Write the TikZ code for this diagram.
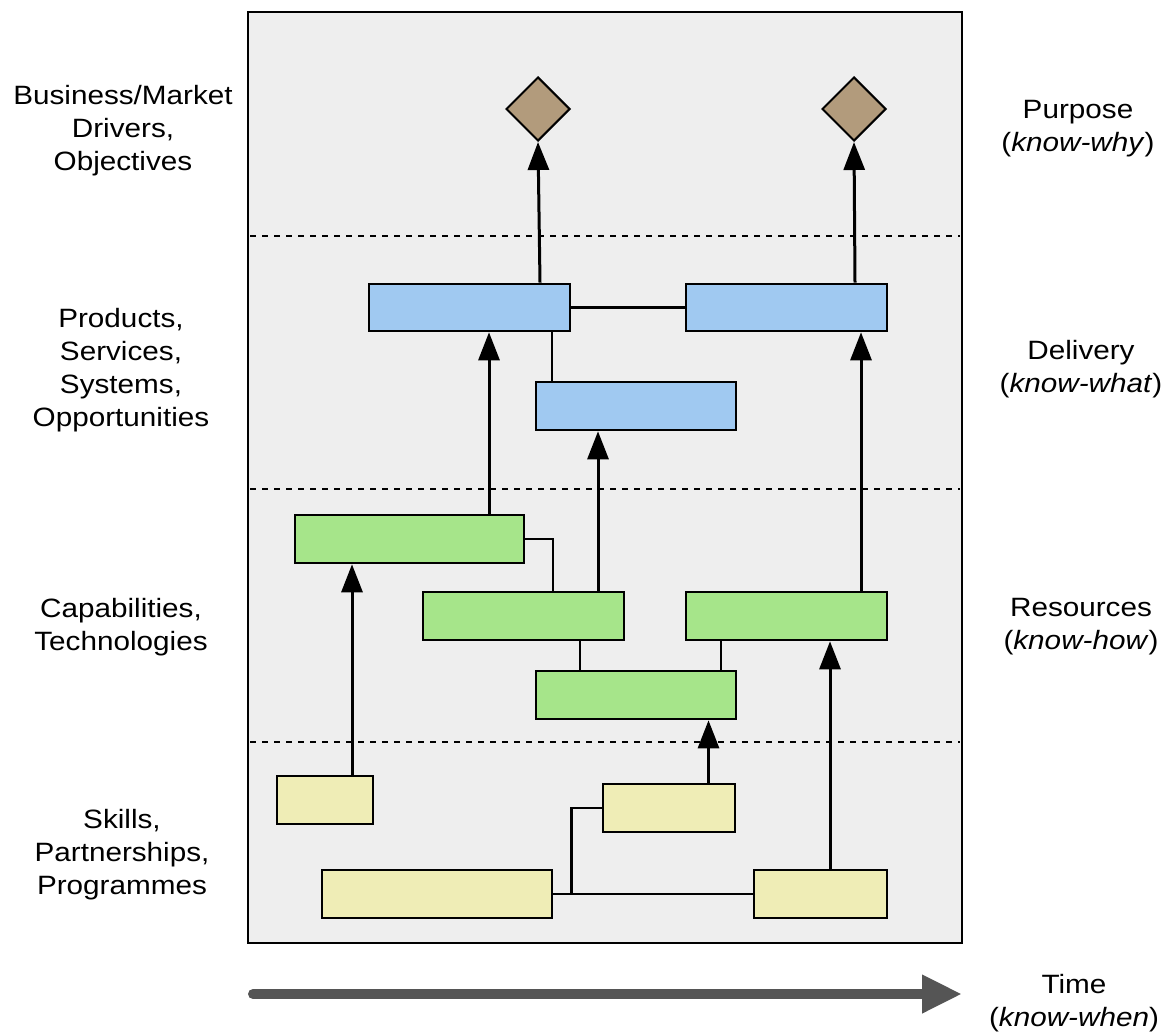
\documentclass[tikz,border=0pt]{standalone}
\usepackage{fontspec}
\setmainfont{Liberation Sans}[FakeStretch=1.12]
\usetikzlibrary{shapes.geometric,arrows.meta}
\definecolor{bgc}{HTML}{EEEEEE}
\definecolor{bluec}{HTML}{A0C9F1}
\definecolor{greenc}{HTML}{A6E58A}
\definecolor{yellowc}{HTML}{EFEDB6}
\definecolor{diamc}{HTML}{B29B7C}
\definecolor{timec}{HTML}{555555}
\tikzset{
  box/.style={draw=black, line width=2.6pt, rectangle, inner sep=0pt},
  bluebox/.style={box, fill=bluec, minimum width=201pt, minimum height=47pt},
  greenbox/.style={box, fill=greenc, minimum height=48pt},
  yellowbox/.style={box, fill=yellowc, minimum height=48pt},
  goal/.style={draw=black, line width=2pt, diamond, aspect=1, fill=diamc, inner sep=0pt, minimum width=64pt, minimum height=64pt},
  link/.style={draw=black, line width=2.6pt},
  arr/.style={draw=black, line width=3pt, -{Triangle[length=28pt,width=21pt]}},
  sep/.style={draw=black, line width=2.6pt, dash pattern=on 6pt off 6pt},
  lab/.style={align=center, font=\fontsize{26.5}{33}\selectfont, inner sep=0pt},
  timearrow/.style={draw=timec, line width=10pt, line cap=round, -{Triangle[length=40pt,width=36pt]}}
}
\begin{document}
\begin{tikzpicture}[x=1pt,y=-1pt]
\useasboundingbox (0,0) rectangle (1175,1034);
% frame
\draw[fill=bgc, line width=2.6pt] (248,12) rectangle (962,943);
\draw[sep] (250,236) -- (960,236);
\draw[sep] (250,489) -- (960,489);
\draw[sep] (250,742) -- (960,742);

% diamonds
\node[goal] (D1) at (538,109) {};
\node[goal] (D2) at (854,109) {};

% blue boxes
\node[bluebox] (B1) at (469.5,307.5) {};
\node[bluebox] (B2) at (786.5,307.5) {};
\node[bluebox, minimum width=200pt, minimum height=48pt] (B3) at (636,406) {};

% green boxes
\node[greenbox, minimum width=229pt] (G1) at (409.5,539) {};
\node[greenbox, minimum width=201pt] (G2) at (523.5,616) {};
\node[greenbox, minimum width=200pt] (G3) at (636,695) {};
\node[greenbox, minimum width=201pt] (G4) at (786.5,616) {};

% yellow boxes
\node[yellowbox, minimum width=96pt] (Y1) at (325,800) {};
\node[yellowbox, minimum width=132pt] (Y2) at (669,808) {};
\node[yellowbox, minimum width=230pt] (Y3) at (437,894) {};
\node[yellowbox, minimum width=133pt] (Y4) at (820.5,894) {};

% connectors
\draw[arr] ([xshift=70.5pt]B1.north) -- (D1.south);
\draw[arr] ([xshift=68.5pt]B2.north) -- (D2.south);
\draw[link] (B1.east) -- (B2.west);
\draw[link] ([xshift=82.5pt]B1.south) coordinate (c1) -- (c1 |- B3.north);
\draw[arr] ([xshift=79.5pt]G1.north) coordinate (c2) -- (c2 |- B1.south);
\draw[arr] ([xshift=74.5pt]G2.north) coordinate (c3) -- (c3 |- B3.south);
\draw[arr] ([xshift=74.5pt]G4.north) coordinate (c4) -- (c4 |- B2.south);
\draw[link] (G1.east) -| ([xshift=29.5pt]G2.north);
\draw[link] ([xshift=56.5pt]G2.south) coordinate (c5) -- (c5 |- G3.north);
\draw[link] ([xshift=-65.5pt]G4.south) coordinate (c6) -- (c6 |- G3.north);
\draw[arr] ([xshift=27pt]Y1.north) coordinate (c7) -- (c7 |- G1.south);
\draw[arr] ([xshift=39.5pt]Y2.north) coordinate (c8) -- (c8 |- G3.south);
\draw[arr] ([xshift=9.5pt]Y4.north) coordinate (c9) -- (c9 |- G4.south);
\draw[link] (Y3.east) -- (Y4.west);
\draw[link] ([xshift=18pt]Y3.east) |- (Y2.west);

% time arrow
\coordinate (t0) at (253,994);
\coordinate (t1) at (962,994);
\draw[timearrow] (t0) -- (t1);

% labels left
\node[lab] (L1) at (123,131) {Business/Market\\Drivers,\\Objectives};
\node[lab] (L2) at (121,370) {Products,\\Services,\\Systems,\\Opportunities};
\node[lab] (L3) at (121,627) {Capabilities,\\Technologies};
\node[lab] (L4) at (122,855) {Skills,\\Partnerships,\\Programmes};
% labels right
\node[lab] (R1) at (1078,129) {Purpose\\(\textit{know-why})};
\node[lab] (R2) at (1081,369) {Delivery\\(\textit{know-what})};
\node[lab] (R3) at (1081,627) {Resources\\(\textit{know-how})};
\node[lab] (R4) at (1074,1003) {Time\\(\textit{know-when})};
\end{tikzpicture}
\end{document}
